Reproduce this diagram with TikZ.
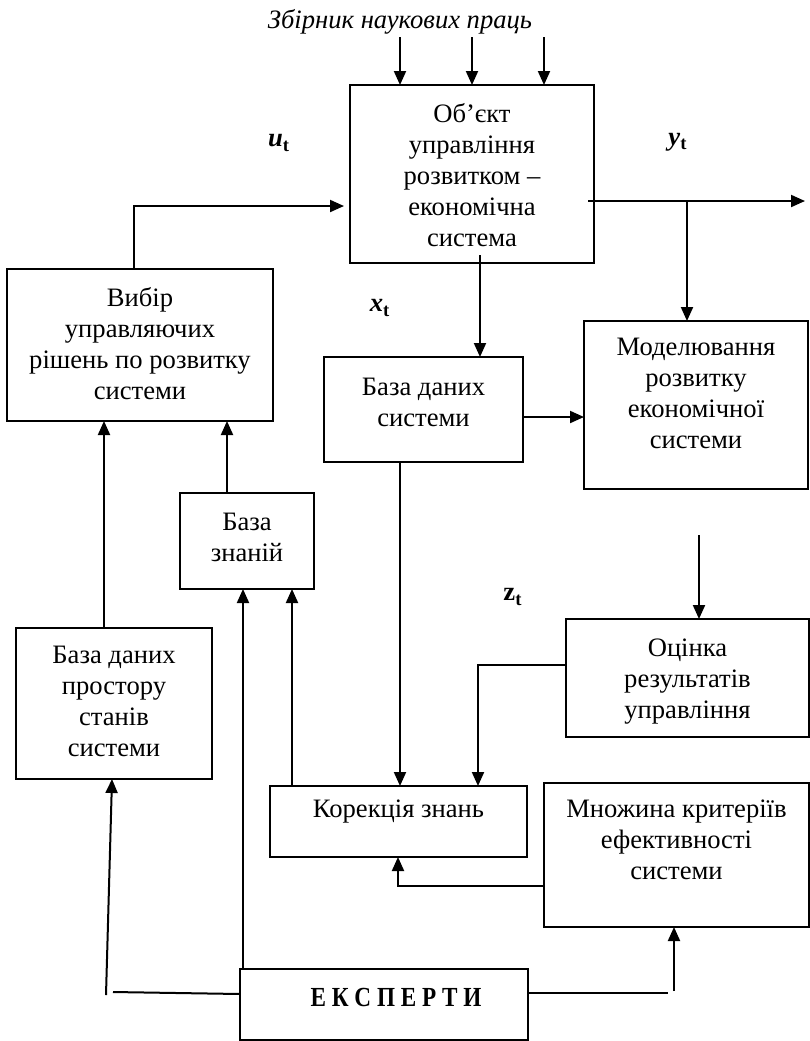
\documentclass[tikz,border=0pt]{standalone}
\usepackage{fontspec}
\usepackage{graphicx}
\setmainfont{Liberation Serif}
\usetikzlibrary{arrows.meta}
\begin{document}
\begin{tikzpicture}[x=0.5pt,y=-0.5pt,
  box/.style={draw, line width=1pt, inner sep=0pt, outer sep=0pt},
  txt/.style={inner sep=0pt, align=center, font=\fontsize{13.3}{15.5}\selectfont},
  lbl/.style={inner sep=0pt, font=\fontsize{13.3}{15.5}\selectfont\bfseries},
  conn/.style={line width=1pt},
  arr/.style={conn, -{Triangle[length=7pt,width=6pt]}},
]
\useasboundingbox (0,0) rectangle (810,1041);
\fill[white] (0,0) rectangle (810,1041);

% boxes
\node[box, minimum width=122pt, minimum height=89pt] (obj) at (472,174) {};
\node[box, minimum width=133pt, minimum height=76pt] (vyb) at (140,345) {};
\node[box, minimum width=99.5pt, minimum height=52.5pt] (bds) at (423.5,409.5) {};
\node[box, minimum width=112pt, minimum height=84pt] (mod) at (696,405) {};
\node[box, minimum width=67pt, minimum height=48pt] (bz) at (247,541) {};
\node[box, minimum width=98pt, minimum height=75.5pt] (bdp) at (114,703.5) {};
\node[box, minimum width=121.5pt, minimum height=59pt] (oc) at (687.5,678) {};
\node[box, minimum width=128.5pt, minimum height=35.5pt] (kor) at (398.5,821.5) {};
\node[box, minimum width=132.5pt, minimum height=72pt] (mn) at (676.5,855) {};
\node[box, minimum width=144pt, minimum height=35.5pt] (eks) at (384,1004.5) {};

% texts
\node[txt, font=\fontsize{13.3}{15.5}\selectfont\itshape] (title) at (400,22) {Збірник наукових праць};
\node[txt] (objT) at (472,175) {Об’єкт\\управління\\розвитком –\\економічна\\система};
\node[txt] (vybT) at (140,344) {Вибір\\управляючих\\рішень по розвитку\\системи};
\node[txt] (bdsT) at (423.5,402) {База даних\\системи};
\node[txt] (modT) at (696,393) {Моделювання\\розвитку\\економічної\\системи};
\node[txt] (bzT) at (247,537) {База\\знаній};
\node[txt] (bdpT) at (114,701) {База даних\\простору\\станів\\системи};
\node[txt] (ocT) at (687.5,682) {Оцінка\\результатів\\управління};
\node[txt] (korT) at (398.5,812) {Корекція знань};
\node[txt] (mnT) at (676.5,840) {Множина критеріїв\\ефективності\\системи};
\node[inner sep=0pt] (eksT) at (396,997) {\scalebox{0.84}[1]{\fontsize{13.8}{16}\selectfont\bfseries Е К С П Е Р Т И}};

% labels
\node[lbl] (ut) at (279,143) {{\itshape u}\textsubscript{t}};
\node[lbl] (yt) at (678,142) {{\itshape y}\textsubscript{t}};
\node[lbl] (xt) at (380,308) {{\itshape x}\textsubscript{t}};
\node[lbl] (zt) at (513,597) {z\textsubscript{t}};

% free-end coordinates
\coordinate (in1) at (400,37);
\coordinate (in2) at (472,37);
\coordinate (in3) at (544,37);
\coordinate (ystart) at (588,201);
\coordinate (yout) at (805,201);
\coordinate (ysplit) at (687,201);
\coordinate (xstart) at (480,255);
\coordinate (zstart) at (699,535);
\coordinate (e1) at (106,995);
\coordinate (e2) at (113,992);
\coordinate (e3) at (668,993);
\coordinate (e4) at (674,991);

% connectors
\draw[arr] (in1) -- (in1 |- obj.north);
\draw[arr] (in2) -- (in2 |- obj.north);
\draw[arr] (in3) -- (in3 |- obj.north);
\draw[arr, shorten >=3pt] (vyb.north -| 134,0) |- (obj.west |- 0,206);
\draw[arr] (ystart) -- (yout);
\draw[arr] (ysplit) -- (mod.north -| ysplit);
\draw[arr] (xstart) -- (bds.north -| xstart);
\draw[arr] (bds.east |- 0,417) -- (mod.west |- 0,417);
\draw[arr] (zstart) -- (oc.north -| zstart);
\draw[arr] (oc.west |- 0,665) -| (kor.north -| 478,0);
\draw[arr] (bds.south -| 400,0) -- (kor.north -| 400,0);
\draw[arr] (bz.north -| 227,0) -- (vyb.south -| 227,0);
\draw[arr] (bdp.north -| 104,0) -- (vyb.south -| 104,0);
\draw[arr] (kor.north -| 292,0) -- (bz.south -| 292,0);
\draw[arr] (eks.north -| 243,0) -- (bz.south -| 243,0);
\draw[conn] (eks.west |- 0,994) -- (e2);
\draw[arr] (e1) -- (bdp.south -| 112,0);
\draw[arr] (mn.west |- 0,886) -| (kor.south -| 398,0);
\draw[conn] (eks.east |- 0,993) -- (e3);
\draw[arr] (e4) -- (mn.south -| e4);
\end{tikzpicture}
\end{document}
